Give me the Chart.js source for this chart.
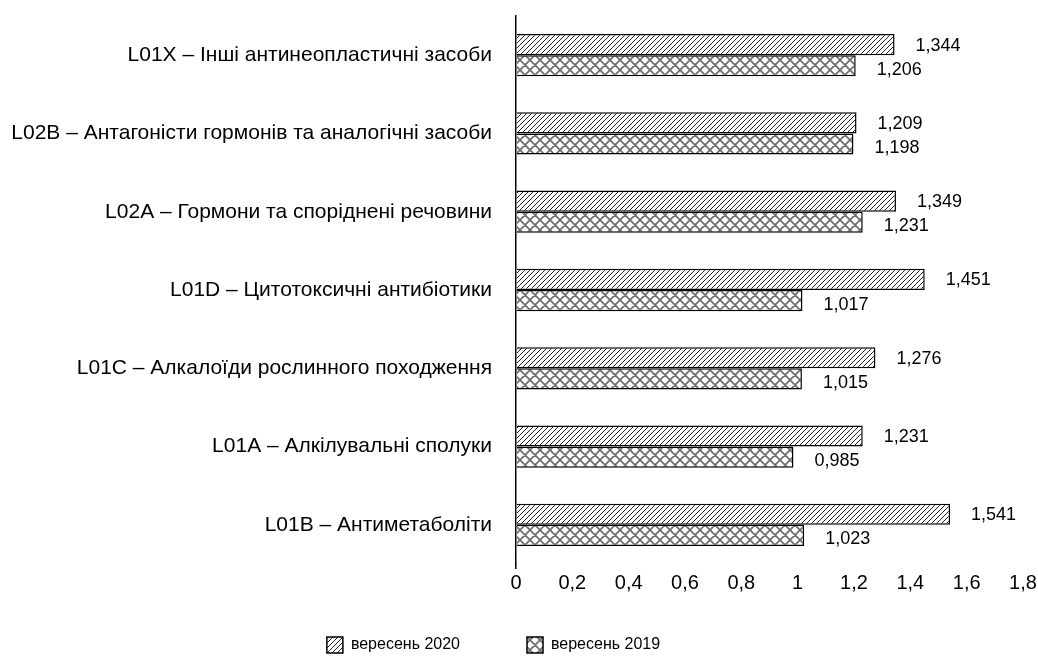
<!DOCTYPE html>
<html>
<head>
<meta charset="utf-8">
<script src="https://cdn.jsdelivr.net/npm/chart.js@4/dist/chart.umd.min.js"></script>
<style>
  html, body { margin: 0; padding: 0; background: #fff; }
  #wrap { width: 1038px; height: 661px; }
</style>
</head>
<body>
<div id="wrap"><canvas id="c" width="1038" height="661"></canvas></div>
<script>
const categories = [
  "L01X – Інші антинеопластичні засоби",
  "L02B – Антагоністи гормонів та аналогічні засоби",
  "L02A – Гормони та споріднені речовини",
  "L01D – Цитотоксичні антибіотики",
  "L01C – Алкалоїди рослинного походження",
  "L01A – Алкілувальні сполуки",
  "L01B – Антиметаболіти"
];
const series2020 = [1.344, 1.209, 1.349, 1.451, 1.276, 1.231, 1.541];
const series2019 = [1.206, 1.198, 1.231, 1.017, 1.015, 0.985, 1.023];
const seriesNames = ["вересень 2020", "вересень 2019"];
const xTicks = [0, 0.2, 0.4, 0.6, 0.8, 1, 1.2, 1.4, 1.6, 1.8];

function makeHatch() {
  const s = 5;
  const c = document.createElement('canvas');
  c.width = s; c.height = s;
  const g = c.getContext('2d');
  const img = g.createImageData(s, s);
  for (let y = 0; y < s; y++) {
    for (let x = 0; x < s; x++) {
      const on = (x + y) % s === s - 1;
      const k = (y * s + x) * 4;
      const v = on ? 35 : 255;
      img.data[k] = v; img.data[k + 1] = v; img.data[k + 2] = v; img.data[k + 3] = 255;
    }
  }
  g.putImageData(img, 0, 0);
  return g.createPattern(c, 'repeat');
}
function makeCross() {
  const s = 10;
  const c = document.createElement('canvas');
  c.width = s; c.height = s;
  const g = c.getContext('2d');
  g.fillStyle = '#fff'; g.fillRect(0, 0, s, s);
  g.strokeStyle = '#6e6e6e'; g.lineWidth = 1.7;
  g.beginPath();
  for (const o of [-s, 0, s]) {
    g.moveTo(-1, -1 + o); g.lineTo(s + 1, s + 1 + o);
    g.moveTo(-1, s + 1 + o); g.lineTo(s + 1, -1 + o);
  }
  g.stroke();
  return g.createPattern(c, 'repeat');
}
const fmt3 = v => v.toFixed(3).replace('.', ',');
const FONT = '"Liberation Sans", Arial, sans-serif';

const valueLabels = {
  id: 'valueLabels',
  afterDatasetsDraw(chart) {
    const ctx = chart.ctx;
    ctx.save();
    ctx.font = '18px ' + FONT;
    ctx.fillStyle = '#000';
    ctx.textAlign = 'left';
    ctx.textBaseline = 'middle';
    chart.data.datasets.forEach((ds, di) => {
      const meta = chart.getDatasetMeta(di);
      meta.data.forEach((bar, i) => {
        const dy = di === 0 ? 1 : 4;
        ctx.fillText(fmt3(ds.data[i]), bar.x + 21, bar.y + dy);
      });
    });
    ctx.restore();
  }
};
// place the legend row where the reference has it (wider item gap, shifted left)
const legendShift = {
  id: 'legendShift',
  afterUpdate(chart) {
    const lg = chart.legend;
    if (lg && lg.lineWidths) {
      lg._baseLine = lg.lineWidths[0];
    }
  },
  beforeDraw(chart) {
    const lg = chart.legend;
    if (lg && lg.lineWidths) {
      lg.lineWidths[0] = lg._baseLine + 36;
      lg.top = 637 - 67;
    }
  }
};

Chart.defaults.font.family = FONT;
Chart.defaults.color = '#000';

new Chart(document.getElementById('c'), {
  type: 'bar',
  data: {
    labels: categories,
    datasets: [
      { label: seriesNames[0], data: series2020, backgroundColor: makeHatch(), borderColor: '#000', borderWidth: 1.5 },
      { label: seriesNames[1], data: series2019, backgroundColor: makeCross(), borderColor: '#000', borderWidth: 1.5 }
    ]
  },
  options: {
    indexAxis: 'y',
    responsive: false,
    animation: false,
    categoryPercentage: 0.54,
    barPercentage: 1,
    layout: { padding: { top: 16, right: 15, bottom: 0, left: 0 } },
    plugins: {
      tooltip: { enabled: false },
      legend: {
        position: 'bottom',
        maxHeight: 40,
        labels: {
          boxWidth: 16, boxHeight: 16, padding: 67,
          font: { size: 16, lineHeight: 1 },
          color: '#000'
        }
      }
    },
    scales: {
      x: {
        min: 0, max: 1.8,
        afterBuildTicks(scale) { scale.ticks = xTicks.map(v => ({ value: v })); },
        afterFit(scale) { scale.height = 57; scale.paddingLeft = 0; scale.paddingRight = 0; },
        grid: {
          display: true, drawOnChartArea: false, drawTicks: true, tickLength: 5,
          color: ctx => (ctx.tick && ctx.tick.value === 0) ? '#000' : 'rgba(0,0,0,0)',
          lineWidth: 1.5
        },
        border: { display: false },
        ticks: {
          padding: 2,
          maxRotation: 0,
          autoSkip: false,
          font: { size: 20 },
          color: '#000',
          callback: v => String(Math.round(v * 10) / 10).replace('.', ',')
        }
      },
      y: {
        afterFit(scale) { scale.width = 516; scale.paddingTop = 0; scale.paddingBottom = 0; },
        grid: { display: false },
        border: { display: true, color: '#000', width: 1.5 },
        ticks: { padding: 16, font: { size: 21 }, color: '#000', autoSkip: false }
      }
    }
  },
  plugins: [valueLabels, legendShift]
});
</script>
</body>
</html>
